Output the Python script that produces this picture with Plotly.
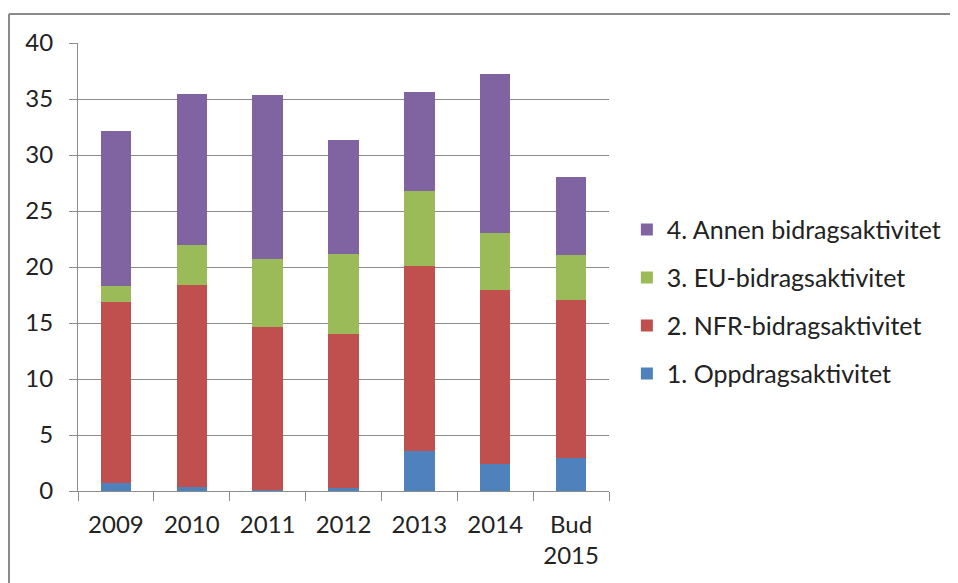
import plotly.graph_objects as go

categories = ["2009", "2010", "2011", "2012", "2013", "2014", "Bud<br>2015"]
oppdrag = [0.73, 0.40, 0.05, 0.30, 3.59, 2.39, 2.93]
nfr = [16.16, 17.95, 14.58, 13.76, 16.53, 15.57, 14.09]
eu = [1.40, 3.60, 6.08, 7.12, 6.65, 5.12, 4.03]
annen = [13.86, 13.50, 14.64, 10.14, 8.84, 14.13, 6.95]

series = [
    ("1. Oppdragsaktivitet", oppdrag, "#4F81BD", 4),
    ("2. NFR-bidragsaktivitet", nfr, "#C0504D", 3),
    ("3. EU-bidragsaktivitet", eu, "#9BBB59", 2),
    ("4. Annen bidragsaktivitet", annen, "#8064A2", 1),
]

fig = go.Figure()
for name, vals, col, rank in series:
    fig.add_trace(go.Bar(
        x=categories, y=vals, name=name, legendgroup=name, legendrank=rank,
        marker=dict(color=col, line=dict(width=0)),
    ))

fam = "Lato, 'Open Sans', sans-serif"

fig.update_layout(
    barmode="stack",
    bargap=0.6,
    width=958, height=583,
    margin=dict(l=70, r=357, t=35, b=100, autoexpand=False),
    paper_bgcolor="white",
    plot_bgcolor="white",
    font=dict(family=fam, size=24, color="#222222"),
    showlegend=True,
    legend=dict(
        xref="container", yref="container",
        x=0.646, y=0.659, xanchor="left", yanchor="top",
        traceorder="grouped",
        tracegroupgap=12.5,
        font=dict(family=fam, size=25, color="#222222"),
        itemwidth=30,
    ),
    xaxis=dict(
        showline=True, linecolor="#8c8c8c", linewidth=1,
        ticks="outside", tickson="boundaries", ticklen=9, tickcolor="#8c8c8c",
        showgrid=False, automargin=False,
        ticklabelstandoff=12,
        tickfont=dict(family=fam, size=24, color="#222222"),
    ),
    yaxis=dict(
        range=[0, 40], dtick=5,
        showline=True, linecolor="#8c8c8c", linewidth=1,
        ticks="outside", ticklen=8, tickcolor="#8c8c8c",
        showgrid=True, gridcolor="#8c8c8c", gridwidth=1,
        zeroline=False, automargin=False,
        ticklabelstandoff=11,
        tickfont=dict(family=fam, size=24, color="#222222"),
    ),
    shapes=[
        dict(type="line", xref="paper", yref="paper",
             x0=-0.13, x1=1.66, y0=1.065, y1=1.065,
             line=dict(color="#8a8a8a", width=2), layer="below"),
        dict(type="line", xref="paper", yref="paper",
             x0=-0.13, x1=-0.13, y0=1.065, y1=-0.3,
             line=dict(color="#8a8a8a", width=2), layer="below"),
    ],
)

fig.write_html("out.html")
